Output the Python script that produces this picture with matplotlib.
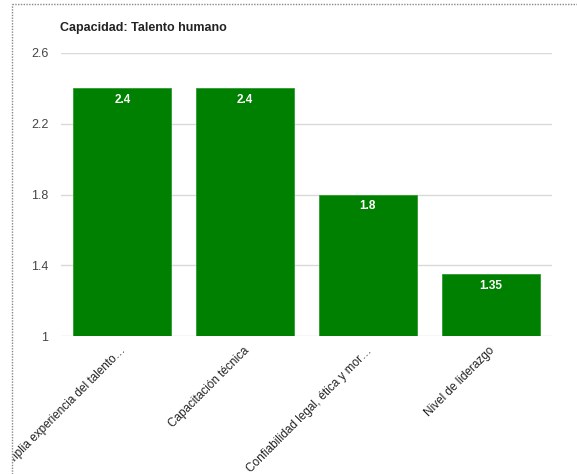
import matplotlib.pyplot as plt
from matplotlib.lines import Line2D
import matplotlib.transforms as mtransforms

# Datos
categorias = ['Amplia experiencia del talento…', 'Capacitación técnica',
              'Confiabilidad legal, ética y mor…', 'Nivel de liderazgo']
valores = [2.4, 2.4, 1.8, 1.35]
etiquetas = ['2.4', '2.4', '1.8', '1.35']
yticks = [1, 1.4, 1.8, 2.2, 2.6]

plt.rcParams['font.family'] = ['Liberation Sans', 'DejaVu Sans']

fig = plt.figure(figsize=(5.77, 4.74), dpi=100)
ax = fig.add_axes([0.1057, 0.2911, 0.851, 0.5971])

x = range(len(categorias))
barras = ax.bar(x, valores, width=0.8, bottom=0, color='#008000',
                edgecolor='#2f9a2f', linewidth=0.6, zorder=3)

# Valores dentro de las barras
for xi, v, t in zip(x, valores, etiquetas):
    ax.annotate(t, (xi, v), xytext=(0, -4), textcoords='offset points',
                ha='center', va='top', color='white', fontsize=8.5,
                fontweight='bold', zorder=4)

ax.set_ylim(1, 2.6)
ax.set_xlim(-0.5, len(categorias) - 0.5)
ax.set_yticks(yticks)
ax.set_yticklabels([f'{t:g}' for t in yticks], color='#444444', fontsize=9)
ax.grid(axis='y', color='#d9d9d9', linewidth=1, zorder=0)
ax.tick_params(axis='both', length=0)
ax.tick_params(axis='y', pad=9)
for s in ax.spines.values():
    s.set_visible(False)

ax.set_xticks(list(x))
ax.set_xticklabels(categorias, rotation=45, ha='right', va='center',
                   rotation_mode='anchor', fontsize=8.5, color='#222222')
desplaz = mtransforms.ScaledTranslation(2 / 100, -8 / 100, fig.dpi_scale_trans)
# las etiquetas se recortan en el borde izquierdo del contenedor
recorte = mtransforms.TransformedBbox(
    mtransforms.Bbox([[13 / 577, 0], [1, 1]]), fig.transFigure)
for lbl in ax.get_xticklabels():
    lbl.set_transform(lbl.get_transform() + desplaz)
    lbl.set_clip_box(recorte)
    lbl.set_clip_on(True)

fig.text(60 / 577, 1 - 28 / 474, 'Capacidad: Talento humano', fontsize=9,
         fontweight='bold', color='#222222', va='center', ha='left')

# Borde punteado
fig.add_artist(Line2D([12 / 577, 12 / 577], [0, 1 - 4 / 474],
                      color='#888888', linestyle=(0, (1, 1)), linewidth=1))
fig.add_artist(Line2D([12 / 577, 1], [1 - 4 / 474, 1 - 4 / 474],
                      color='#888888', linestyle=(0, (1, 1)), linewidth=1))

fig.savefig('out.png', dpi=100)
